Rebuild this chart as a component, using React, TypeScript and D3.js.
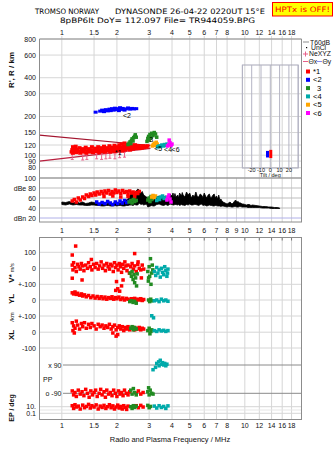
import React from 'react';
import * as d3 from 'd3';

// ---------- tick labels ----------
const FREQ_TICKS_TOP = [1, 1.5, 2, 3, 4, 5, 6, 7, 8, 10, 12, 14, 16, 18];
const FREQ_TICKS_MID = [1, 1.5, 2, 3, 4, 5, 6, 7, 8, 9, 10, 12, 14, 16, 18];
const HEIGHT_TICKS = [800, 600, 400, 300, 200, 150, 120, 100, 90, 80];
const DB_TICKS = [100, 80, 60, 40, 20];
const TILT_TICKS = [-20, -10, 0, 10, 20];
const TILT_GRID = [-30, -20, -10, 0, 10, 20, 30];

// ---------- ionogram (frequency MHz, virtual height km) ----------
const mode1H = [[1.13,106],[1.14,110],[1.15,104],[1.15,116],[1.16,113],[1.18,108],[1.19,117],[1.2,105],[1.21,111],[1.23,107],[1.25,114],[1.26,104],[1.28,109],[1.3,112],[1.31,106],[1.33,110],[1.35,115],[1.36,104],[1.38,108],[1.4,112],[1.42,106],[1.44,110],[1.46,116],[1.48,105],[1.5,109],[1.52,113],[1.54,107],[1.56,111],[1.58,116],[1.6,105],[1.62,109],[1.64,114],[1.66,107],[1.68,111],[1.7,117],[1.72,106],[1.74,110],[1.76,114],[1.78,108],[1.8,112],[1.82,118],[1.84,106],[1.86,110],[1.88,115],[1.9,108],[1.92,113],[1.94,119],[1.96,107],[1.98,111],[2.0,116],[2.02,109],[2.04,113],[2.06,120],[2.08,110],[2.1,115],[2.12,122],[2.14,108],[2.16,112],[2.18,117],[2.2,124],[2.22,110],[2.24,114],[2.26,119],[2.28,112],[2.3,116],[2.33,121],[2.36,110],[2.39,114],[2.42,118],[2.45,112],[2.48,116],[2.51,120],[2.54,113],[2.57,117],[2.6,114],[2.63,118],[2.66,113],[2.7,116],[2.74,114],[2.78,118],[2.82,115],[2.86,117],[2.9,116],[2.94,118]];
const mode2H = [[1.53,216],[1.62,220],[1.66,224],[1.7,218],[1.74,226],[1.78,221],[1.82,228],[1.85,222],[1.88,230],[1.92,224],[1.95,232],[1.98,226],[2.02,230],[2.05,222],[2.08,234],[2.12,227],[2.15,231],[2.2,224],[2.24,229],[2.3,233],[2.36,228],[2.42,231],[2.48,229],[2.55,230]];
const mode3H = [[2.3,121],[2.33,124],[2.36,127],[2.38,123],[2.4,130],[2.42,134],[2.45,129],[2.47,137],[2.5,140],[2.52,144],[2.55,138],[2.92,128],[2.95,135],[2.98,140],[3.0,131],[3.03,145],[3.07,137],[3.1,148],[3.15,142],[3.2,150],[3.25,146],[3.3,138]];
const mode4H = [[3.34,116],[3.4,118],[3.46,117],[3.52,120],[3.58,118],[3.64,121],[3.7,119],[3.76,122]];
const mode5H = [[3.12,118],[3.16,121],[3.2,124],[3.24,119],[3.28,126],[3.32,122]];
const mode6H = [[3.78,118],[3.84,121],[3.9,125],[3.95,119],[3.86,131],[4.0,122]];
const neXYZ = [[1.14,97],[1.3,96],[1.37,97],[1.55,98],[1.65,97],[1.74,98],[1.83,99],[1.95,98],[2.07,100],[2.2,101]];
const modelUpper = [[0.755,143],[3.05,119]];
const modelLower = [[0.755,90],[3.05,113]];
const modeLabels = [{ t: '*1', f: 1.95, h: 106 }, { t: '<2', f: 2.16, h: 205 }, { t: '3', f: 3.0, h: 133 }, { t: '<5', f: 3.2, h: 114 }, { t: '<4', f: 3.62, h: 111 }, { t: '<6', f: 3.98, h: 112 }];
const tiltMarks = [{ tilt: -3, h0: 96, h1: 108, c: '#0000ff' }, { tilt: 0.5, h0: 95, h1: 110, c: '#ff0000' }];

// ---------- amplitude (frequency, dB) ----------
const noiseDb = [[1.0,47,52],[1.05,46,51],[1.1,48,53],[1.15,46,50],[1.2,47,52],[1.25,46,50],[1.3,46,52],[1.35,45,49],[1.4,45,50],[1.45,46,52],[1.5,46,51],[1.55,45,49],[1.6,45,49],[1.65,44,51],[1.7,44,50],[1.75,45,48],[1.8,45,51],[1.85,44,49],[1.9,44,49],[1.95,45,52],[2.0,44,52],[2.05,45,49],[2.1,45,50],[2.15,44,53],[2.2,44,53],[2.25,45,56],[2.3,45,58],[2.35,46,64],[2.4,46,70],[2.45,45,66],[2.5,47,72],[2.55,46,74],[2.6,46,78],[2.65,50,76],[2.7,47,70],[2.75,48,73],[2.8,46,66],[2.85,47,64],[2.9,48,62],[2.95,42,60],[3.0,43,56],[3.05,44,62],[3.1,45,60],[3.15,44,55],[3.2,44,58],[3.3,47,62],[3.4,48,64],[3.5,46,60],[3.6,45,62],[3.7,47,64],[3.8,45,60],[3.9,48,68],[4.0,47,64],[4.05,46,70],[4.1,46,62],[4.15,47,69],[4.2,47,62],[4.3,46,66],[4.35,47,60],[4.4,45,70],[4.5,47,64],[4.55,46,71],[4.6,46,66],[4.7,45,62],[4.8,47,72],[4.9,46,66],[5.0,48,70],[5.1,46,60],[5.2,46,66],[5.3,47,62],[5.4,47,72],[5.5,46,63],[5.6,45,62],[5.7,47,68],[5.8,48,66],[5.9,45,61],[6.0,46,70],[6.1,45,64],[6.2,44,60],[6.3,45,66],[6.4,46,68],[6.5,45,60],[6.6,45,62],[6.7,44,66],[6.8,44,68],[6.9,45,60],[7.0,45,64],[7.1,44,58],[7.2,44,66],[7.3,44,56],[7.4,43,58],[7.5,44,54],[7.6,44,52],[7.8,43,50],[8.0,42,48],[8.15,43,50],[8.3,43,52],[8.45,42,49],[8.6,42,49],[8.75,43,53],[8.9,43,56],[9.05,42,52],[9.2,42,53],[9.35,43,50],[9.5,43,50],[9.65,42,48],[9.8,42,48],[10.0,42,47],[10.2,42,46],[10.4,41,47],[10.6,41,47],[10.8,41,45],[11.0,41,46],[11.5,41,45],[12.0,41,44],[12.5,40,43],[13.0,40,43],[13.5,40,42],[14.0,39,42],[14.5,39,41],[15.0,39,41],[15.5,39,40]];
const mode1Db = [[1.14,54],[1.17,57],[1.2,52],[1.23,60],[1.26,56],[1.3,62],[1.33,59],[1.36,66],[1.4,63],[1.43,68],[1.46,65],[1.5,70],[1.53,66],[1.56,72],[1.6,68],[1.64,73],[1.68,69],[1.7,63],[1.72,74],[1.76,70],[1.8,75],[1.84,68],[1.88,73],[1.9,64],[1.92,70],[1.96,76],[2.0,71],[2.05,74],[2.1,69],[2.1,62],[2.15,75],[2.2,71],[2.25,73],[2.3,68],[2.3,63],[2.35,74],[2.4,70],[2.45,72],[2.5,67],[2.5,62],[2.55,71],[2.6,69],[2.65,73]];
const mode2Db = [[1.55,52],[1.6,48],[1.66,51],[1.72,49],[1.78,53],[1.84,50],[1.9,47],[1.96,52],[2.02,49],[2.08,54],[2.14,50],[2.2,55],[2.26,51],[2.32,53]];
const mode3Db = [[2.33,52],[2.38,55],[2.42,50],[2.46,57],[2.5,53],[2.55,55],[2.95,56],[3.0,60],[3.03,53],[3.07,63],[3.1,57]];
const mode4Db = [[3.3,55],[3.36,60],[3.42,57],[3.48,62],[3.55,64],[3.62,59],[3.7,61]];
const mode5Db = [[3.1,62],[3.15,65],[3.2,61],[3.25,64]];
const mode6Db = [[3.75,56],[3.8,62],[3.85,66],[3.9,58],[3.95,52]];

// ---------- Doppler velocity V* (m/s) ----------
const mode1V = [[1.14,20],[1.15,-10],[1.16,35],[1.18,5],[1.2,-20],[1.22,25],[1.24,10],[1.26,-5],[1.28,30],[1.3,15],[1.32,-15],[1.35,20],[1.38,0],[1.4,35],[1.43,10],[1.46,-10],[1.49,25],[1.52,5],[1.55,30],[1.58,-5],[1.61,15],[1.64,40],[1.67,0],[1.7,20],[1.73,-15],[1.76,30],[1.79,10],[1.82,-5],[1.85,25],[1.88,15],[1.91,-20],[1.94,35],[1.97,5],[2.0,20],[2.03,-10],[2.06,30],[2.09,10],[2.12,-25],[2.15,25],[2.18,0],[2.21,40],[2.24,15],[2.27,-15],[2.3,20],[2.34,-30],[2.38,10],[2.42,30],[2.46,-5],[2.5,15],[2.55,-20],[2.6,25],[2.65,0],[2.7,-10],[2.75,20],[2.8,-5],[1.19,139],[1.14,83],[1.14,-62],[1.29,-73],[1.99,-83],[2.16,-73],[2.12,-110],[2.5,92],[2.61,40],[1.45,55],[2.72,-60]];
const mode3V = [[2.36,-30],[2.4,-50],[2.42,-20],[2.45,-70],[2.48,-40],[2.5,-90],[2.53,-60],[2.56,-110],[2.58,-35],[2.95,-20],[2.97,-80],[2.98,-60],[3.0,10],[3.02,-50],[3.05,60],[3.07,-100],[3.1,-30],[3.12,20],[3.14,-10]];
const mode4V = [[3.2,-20],[3.26,-45],[3.3,5],[3.35,-30],[3.4,-10],[3.45,-55],[3.5,0],[3.55,-25],[3.6,-40],[3.65,10],[3.7,-15],[3.75,-50],[3.78,-30],[3.8,-5]];

// ---------- YL (km) ----------
const mode1YL = [[1.14,45],[1.16,38],[1.18,50],[1.2,35],[1.22,42],[1.25,30],[1.28,38],[1.3,25],[1.33,32],[1.36,20],[1.4,28],[1.44,15],[1.48,25],[1.52,12],[1.56,22],[1.6,10],[1.64,20],[1.68,8],[1.72,18],[1.76,5],[1.8,15],[1.84,10],[1.88,20],[1.92,5],[1.96,15],[2.0,8],[2.05,18],[2.1,3],[2.15,12],[2.2,0],[2.25,10],[2.3,5],[2.35,-3],[2.4,8],[2.45,0],[2.5,10],[2.55,-5],[2.6,5],[2.65,0],[2.7,8],[2.75,-3],[2.8,3],[1.97,60],[2.02,70],[2.07,55]];
const mode3YL = [[2.35,-10],[2.4,-5],[2.45,-15],[2.5,-8],[2.55,-20],[2.98,0],[3.02,-10],[3.06,5],[3.1,-5]];
const mode4YL = [[3.2,-5],[3.3,0],[3.4,-10],[3.5,5],[3.6,-5],[3.7,0],[3.8,-8]];

// ---------- XL (km) ----------
const mode1XL = [[1.14,60],[1.15,10],[1.16,40],[1.17,-5],[1.18,25],[1.2,70],[1.22,45],[1.25,20],[1.28,55],[1.3,35],[1.33,60],[1.36,25],[1.4,50],[1.43,30],[1.46,55],[1.5,40],[1.54,20],[1.58,50],[1.62,35],[1.66,45],[1.7,25],[1.74,40],[1.78,30],[1.82,50],[1.86,20],[1.9,35],[1.94,45],[1.98,15],[2.02,30],[2.06,40],[2.1,20],[2.14,35],[2.18,10],[2.22,30],[2.26,20],[2.3,35],[2.35,15],[2.4,25],[2.45,30],[2.5,15],[2.55,25],[2.6,20],[2.65,30],[2.7,15],[2.75,25],[2.8,20],[1.98,-25],[2.02,-15],[1.9,-5]];
const mode3XL = [[2.38,25],[2.42,35],[2.46,15],[2.5,30],[2.55,20],[2.95,10],[3.0,25],[3.03,-10],[3.07,5],[3.1,15]];
const mode4XL = [[3.2,10],[3.3,5],[3.4,15],[3.5,8],[3.6,12],[3.7,5],[3.8,10],[3.1,104],[3.17,91]];

// ---------- polarisation PP (deg) ----------
const mode4PP = [[3.15,60],[3.25,75],[3.3,100],[3.38,110],[3.4,85],[3.45,120],[3.5,95],[3.55,105],[3.6,90],[3.65,100],[3.7,85],[3.75,95]];
const mode1PP = [[1.14,-75],[1.16,-100],[1.18,-85],[1.2,-110],[1.23,-70],[1.26,-95],[1.29,-80],[1.32,-105],[1.35,-65],[1.38,-90],[1.41,-115],[1.44,-75],[1.47,-100],[1.5,-85],[1.53,-70],[1.56,-110],[1.6,-90],[1.63,-65],[1.66,-100],[1.7,-80],[1.73,-115],[1.76,-70],[1.8,-95],[1.84,-85],[1.88,-105],[1.92,-70],[1.96,-90],[2.0,-110],[2.04,-75],[2.08,-95],[2.12,-85],[2.16,-105],[2.2,-70],[2.25,-90],[2.3,-100],[2.35,-80],[2.55,-90],[2.62,-75],[2.7,-95],[2.78,-85]];
const mode3PP = [[2.38,-70],[2.42,-95],[2.46,-60],[2.5,-85],[2.55,-100],[2.95,-80],[2.98,-55],[3.0,-100],[3.04,-70],[3.1,-90],[3.15,-95]];

// ---------- EP (deg) ----------
const mode1EP = [[1.14,20],[1.16,3],[1.18,40],[1.2,8],[1.23,15],[1.26,2],[1.3,30],[1.33,5],[1.36,12],[1.4,50],[1.43,4],[1.46,20],[1.5,8],[1.54,35],[1.58,2],[1.62,15],[1.66,6],[1.7,25],[1.74,3],[1.78,10],[1.82,40],[1.86,5],[1.9,18],[1.94,2],[1.98,8],[2.02,30],[2.06,4],[2.1,12],[2.14,2],[2.18,20],[2.22,6],[2.26,1.5],[2.3,15],[2.55,20],[2.62,5],[2.7,25],[2.78,8]];
const mode3EP = [[2.38,10],[2.42,3],[2.46,20],[2.5,6],[2.55,15],[2.95,25],[3.0,5],[3.05,12]];
const mode4EP = [[3.2,15],[3.3,4],[3.4,20],[3.5,6],[3.6,12],[3.7,3],[3.8,18]];

const MODE_LEGEND = [{ t: '*1', c: '#ff0000' }, { t: '<2', c: '#0000ff' }, { t: '3', c: '#228b22' }, { t: '<4', c: '#00aaaa' }, { t: '<5', c: '#ffa500' }, { t: '<6', c: '#ff00ff' }];

const RED = '#ff0000', BLUE = '#0000ff', GREEN = '#228b22', CYAN = '#00aaaa', ORANGE = '#ffa500', MAG = '#ff00ff';
const GRID = '#d6d6d6';
const FRAME = '#8c8c8c';
const FONT = 'Liberation Sans, Arial, sans-serif';
const HFONT = 'DejaVu Sans, sans-serif';

type P = number[];

export default function App() {
  const L = 39.5, R = 301.5;
  const x = d3.scaleLog().domain([0.755, 20.4]).range([L, R]);
  const yH = d3.scaleLog().domain([66.5, 800]).range([178, 39]);
  const yDb = d3.scaleLinear().domain([12, 100]).range([222, 178]);
  const yV = d3.scaleLinear().domain([-100, 100]).range([284.3, 252.3]);
  const yYL = d3.scaleLinear().domain([-100, 0]).range([316, 300]);
  const yXL = d3.scaleLinear().domain([-100, 0]).range([348, 332.2]);
  const yPP = d3.scaleLinear().domain([-90, 90]).range([393.3, 365]);
  const yEP = d3.scaleLog().domain([0.1, 10]).range([413.3, 406.7]);
  const xT = d3.scaleLinear().domain([-30, 30]).range([242.4, 298.2]);

  const sq = (pts: P[], sy: (v: number) => number, color: string, w = 3.5, h = 3.5, key = '') =>
    pts.map((d, i) => (
      <rect key={key + i} x={x(d[0]) - w / 2} y={sy(d[1]) - h / 2} width={w} height={h} fill={color} />
    ));

  const line = d3.line<P>().x(d => x(d[0])).y(d => yH(d[1]));
  const noiseArea = d3.area<P>().x(d => x(d[0])).y0(d => yDb(d[1])).y1(d => yDb(d[2]));

  const vGrid = (ticks: number[], y0: number, y1: number, k: string) =>
    ticks.map(t => <line key={k + t} x1={x(t)} x2={x(t)} y1={y0} y2={y1} stroke={GRID} strokeWidth={1} />);
  const tickLabels = (ticks: number[], y: number, k: string) =>
    ticks.map(t => (
      <text key={k + t} x={x(t)} y={y} textAnchor="middle" fontSize={7} fill="#111">{String(t)}</text>
    ));

  const lowerRows = [
    { y: yV(100), lab: '100' },
    { y: yV(0), lab: '0' },
    { y: yV(-100), lab: '+-100' },
    { y: yYL(0), lab: '0' },
    { y: yYL(-100), lab: '+-100' },
    { y: yXL(0), lab: '0' },
    { y: yXL(-100), lab: '-100' },
  ];

  return (
    <svg width={335} height={451} style={{ position: 'absolute', left: 0, top: 0, background: '#fff' }} fontFamily={FONT}>
      <rect x={0} y={0} width={335} height={451} fill="#fff" />
      {/* header */}
      <text x={35} y={14.3} fontFamily={HFONT} fontSize={7.5} textLength={64} lengthAdjust="spacingAndGlyphs" fill="#000">TROMSO NORWAY</text>
      <text x={115} y={14.3} fontFamily={HFONT} fontSize={7.5} textLength={150} lengthAdjust="spacingAndGlyphs" fill="#000">DYNASONDE 26-04-22 0220UT 15°E</text>
      <text x={60} y={23.2} fontFamily={HFONT} fontSize={7.5} textLength={195} lengthAdjust="spacingAndGlyphs" fill="#000">8pBP6It DoY= 112.097 File= TR944059.BPG</text>
      <rect x={272.5} y={2.5} width={60} height={13.5} fill="#ffff00" stroke="#ff0000" strokeWidth={1} />
      <text x={302.5} y={12.3} fontFamily={HFONT} fontSize={7.5} textAnchor="middle" fill="#ff0000" textLength={55} lengthAdjust="spacingAndGlyphs">HPTx is OFF!</text>

      {/* ===== top ionogram panel ===== */}
      {vGrid(FREQ_TICKS_TOP, 36, 178, 'tg')}
      {HEIGHT_TICKS.map(h => (
        <g key={'h' + h}>
          <line x1={L} x2={R} y1={yH(h)} y2={yH(h)} stroke={GRID} />
          <text x={36} y={yH(h) + 2.5} textAnchor="end" fontSize={7} fill="#111">{String(h)}</text>
        </g>
      ))}
      {tickLabels(FREQ_TICKS_TOP, 34.5, 'tt')}
      <text transform="translate(14,70) rotate(-90)" textAnchor="middle" fontSize={8} fontWeight="bold" fill="#111">R', R / km</text>

      {/* tilt inset */}
      <rect x={xT(-30)} y={65} width={xT(30) - xT(-30)} height={103} fill="none" stroke="#a8a8b8" />
      {TILT_GRID.map(t => (
        <line key={'tg' + t} x1={xT(t)} x2={xT(t)} y1={65} y2={168} stroke="#b4b4c4" />
      ))}
      {TILT_TICKS.map(t => (
        <text key={'tl' + t} x={xT(t)} y={172.3} textAnchor="middle" fontSize={5.5} fill="#111">{String(t)}</text>
      ))}
      <text x={xT(0)} y={177.3} textAnchor="middle" fontSize={5.5} fill="#111">Tilt / deg</text>
      {tiltMarks.map((m, i) => (
        <rect key={'tm' + i} x={xT(m.tilt) - 1.5} y={yH(m.h1)} width={3} height={yH(m.h0) - yH(m.h1)} fill={m.c} />
      ))}

      {/* model lines */}
      <path d={line(modelUpper as P[]) || ''} fill="none" stroke="#a3152f" strokeWidth={1.2} />
      <path d={line(modelLower as P[]) || ''} fill="none" stroke="#b8203f" strokeWidth={1.2} />
      {neXYZ.map((d, i) => (
        <g key={'ne' + i} stroke="#e8608a" strokeWidth={1}>
          <line x1={x(d[0])} x2={x(d[0])} y1={yH(d[1]) - 2.5} y2={yH(d[1]) + 2.5} />
          <line x1={x(d[0]) - 1.5} x2={x(d[0]) + 1.5} y1={yH(d[1]) - 2.5} y2={yH(d[1]) - 2.5} />
          <line x1={x(d[0]) - 1.5} x2={x(d[0]) + 1.5} y1={yH(d[1]) + 2.5} y2={yH(d[1]) + 2.5} />
        </g>
      ))}
      {sq(mode1H, yH, RED, 4, 3.5, 'm1')}
      {sq(mode2H, yH, BLUE, 4, 3, 'm2')}
      {sq(mode3H, yH, GREEN, 3.5, 3.5, 'm3')}
      {sq(mode5H, yH, ORANGE, 3.5, 3.5, 'm5')}
      {sq(mode4H, yH, CYAN, 3.5, 3.5, 'm4')}
      {sq(mode6H, yH, MAG, 3.5, 3.5, 'm6')}
      {modeLabels.map((m, i) => (
        <text key={'ml' + i} x={x(m.f)} y={yH(m.h) + 3} fontSize={7} fill="#000">{m.t}</text>
      ))}
      <line x1={L} x2={L} y1={39} y2={178} stroke={FRAME} />
      <line x1={R} x2={R} y1={39} y2={178} stroke={FRAME} />
      <line x1={L} x2={R} y1={39} y2={39} stroke={FRAME} />

      {/* legend */}
      <g fontSize={6.8} fill="#111">
        <line x1={303} x2={309} y1={42} y2={42} stroke="#a0a0a0" strokeWidth={1.2} />
        <text x={310} y={44.5}>T60dB</text>
        <rect x={306} y={47} width={1.2} height={1.2} fill="#000" />
        <text x={311} y={50.3}>UnCl</text>
        <line x1={303} x2={308} y1={54} y2={54} stroke="#e8608a" />
        <line x1={305.5} x2={305.5} y1={51.5} y2={56.5} stroke="#e8608a" />
        <text x={309} y={56.3}>NeXYZ</text>
        <line x1={303} x2={308} y1={61.5} y2={61.5} stroke="#e8608a" />
        <text x={308.5} y={63.8}>Θx</text>
        <line x1={317} x2={322} y1={61.5} y2={61.5} stroke="#8888ee" />
        <text x={322.5} y={63.8}>Θy</text>
        {MODE_LEGEND.map((m, i) => (
          <g key={'lg' + i}>
            <rect x={306} y={69.5 + i * 8.3} width={4} height={4} fill={m.c} />
            <text x={m.t.length === 1 ? 317 : 313} y={74 + i * 8.3} fontSize={7.5} fill="#000">{m.t}</text>
          </g>
        ))}
      </g>

      {/* ===== dB panel ===== */}
      {vGrid(FREQ_TICKS_MID, 178, 222, 'dg')}
      {DB_TICKS.map(v => (
        <line key={'db' + v} x1={L} x2={R} y1={yDb(v)} y2={yDb(v)} stroke={v === 20 ? '#b0b0e8' : '#bdbdbd'} />
      ))}
      <text x={36} y={yDb(100) + 2.5} textAnchor="end" fontSize={7} fill="#111">100</text>
      <text x={36} y={yDb(80) + 2.5} textAnchor="end" fontSize={7} fill="#111">dBe 80</text>
      <text x={36} y={yDb(60) + 2.5} textAnchor="end" fontSize={7} fill="#111">60</text>
      <text x={36} y={yDb(40) + 2.5} textAnchor="end" fontSize={7} fill="#111">40</text>
      <text x={36} y={yDb(20) + 2.5} textAnchor="end" fontSize={7} fill="#111">dBn 20</text>
      <path d={noiseArea(noiseDb as P[]) || ''} fill="#000" stroke="#000" strokeWidth={0.8} />
      {sq(mode1Db, yDb, RED, 3.5, 3.5, 'd1')}
      {sq(mode2Db, yDb, BLUE, 3.5, 3.5, 'd2')}
      {sq(mode3Db, yDb, GREEN, 3.5, 3.5, 'd3')}
      {sq(mode5Db, yDb, ORANGE, 3.5, 3.5, 'd5')}
      {sq(mode4Db, yDb, CYAN, 3.5, 3.5, 'd4')}
      {sq(mode6Db, yDb, MAG, 3.5, 3.5, 'd6')}
      <rect x={L} y={178} width={R - L} height={44} fill="none" stroke={FRAME} />
      {tickLabels(FREQ_TICKS_MID, 232.5, 'mt')}

      {/* ===== lower panel ===== */}
      {vGrid(FREQ_TICKS_TOP, 237.5, 419.5, 'lg')}
      {FREQ_TICKS_TOP.map(t => (
        <line key={'lt' + t} x1={x(t)} x2={x(t)} y1={237.5} y2={240.5} stroke="#777" />
      ))}
      {lowerRows.map((r, i) => (
        <g key={'lr' + i}>
          <line x1={L} x2={R} y1={r.y} y2={r.y} stroke={GRID} />
          <text x={36} y={r.y + 2.5} textAnchor="end" fontSize={7} fill="#111">{r.lab}</text>
        </g>
      ))}
      <line x1={63} x2={R} y1={yPP(90)} y2={yPP(90)} stroke="#8a8a8a" />
      <line x1={63} x2={R} y1={yPP(-90)} y2={yPP(-90)} stroke="#8a8a8a" />
      <text x={61.5} y={yPP(90) + 2.5} textAnchor="end" fontSize={7} fill="#111">x 90</text>
      <text x={43} y={381.5} fontSize={7} fill="#111">PP</text>
      <text x={61.5} y={yPP(-90) + 2.5} textAnchor="end" fontSize={7} fill="#111">o -90</text>
      <line x1={L} x2={R} y1={yEP(10)} y2={yEP(10)} stroke={GRID} />
      <line x1={L} x2={R} y1={yEP(1)} y2={yEP(1)} stroke="#e6e6e6" />
      <line x1={L} x2={R} y1={yEP(0.1)} y2={yEP(0.1)} stroke={GRID} />
      <text x={36} y={yEP(10) + 2.5} textAnchor="end" fontSize={7} fill="#111">10.</text>
      <text x={36} y={yEP(0.1) + 2.5} textAnchor="end" fontSize={7} fill="#111">0.1</text>

      <text transform="translate(14,273) rotate(-90)" textAnchor="middle" fill="#111">
        <tspan fontSize={8} fontWeight="bold">V*</tspan>
        <tspan fontSize={5.5} dx={2}>m/s</tspan>
      </text>
      <text transform="translate(14,299) rotate(-90)" textAnchor="middle" fontSize={8} fontWeight="bold" fill="#111">YL</text>
      <text transform="translate(14,317) rotate(-90)" textAnchor="middle" fontSize={6} fill="#111">/km</text>
      <text transform="translate(14,335) rotate(-90)" textAnchor="middle" fontSize={8} fontWeight="bold" fill="#111">XL</text>
      <text transform="translate(14,408) rotate(-90)" textAnchor="middle" fontSize={7} fontWeight="bold" fill="#111">EP / deg</text>

      {sq(mode1V, yV, RED, 3.5, 3.5, 'v1')}
      {sq(mode3V, yV, GREEN, 3.5, 3.5, 'v3')}
      {sq(mode4V, yV, CYAN, 3.5, 3.5, 'v4')}
      {sq(mode1YL, yYL, RED, 3.5, 3.5, 'y1')}
      {sq(mode3YL, yYL, GREEN, 3.5, 3.5, 'y3')}
      {sq(mode4YL, yYL, CYAN, 3.5, 3.5, 'y4')}
      {sq(mode1XL, yXL, RED, 3.5, 3.5, 'x1')}
      {sq(mode3XL, yXL, GREEN, 3.5, 3.5, 'x3')}
      {sq(mode4XL, yXL, CYAN, 3.5, 3.5, 'x4')}
      {sq(mode4PP, yPP, CYAN, 3.5, 3.5, 'p4')}
      {sq(mode1PP, yPP, RED, 3.5, 3.5, 'p1')}
      {sq(mode3PP, yPP, GREEN, 3.5, 3.5, 'p3')}
      {sq(mode1EP, yEP, RED, 3.5, 3.5, 'e1')}
      {sq(mode3EP, yEP, GREEN, 3.5, 3.5, 'e3')}
      {sq(mode4EP, yEP, CYAN, 3.5, 3.5, 'e4')}

      <rect x={L} y={237.5} width={R - L} height={182} fill="none" stroke={FRAME} />
      {tickLabels(FREQ_TICKS_TOP, 428, 'bt')}
      <text x={170} y={442} textAnchor="middle" fontSize={7.5} fill="#111">Radio and Plasma Frequency / MHz</text>
    </svg>
  );
}
